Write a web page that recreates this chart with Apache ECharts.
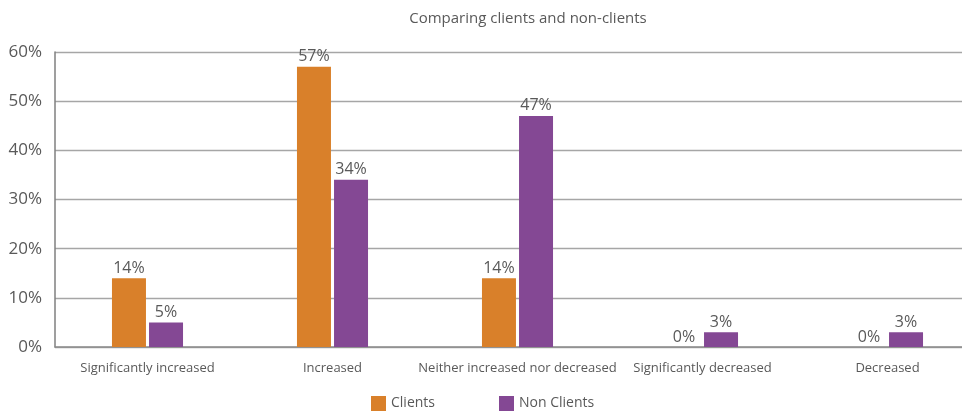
<!DOCTYPE html>
<html>
<head>
<meta charset="utf-8">
<script src="https://cdn.jsdelivr.net/npm/echarts@6/dist/echarts.min.js"></script>
<style>
  html, body { margin: 0; padding: 0; background: #fff; }
  #chart { width: 967px; height: 411px; }
</style>
</head>
<body>
<div id="chart"></div>
<script>
// Survey responses: change reported, clients vs non-clients (percent)
const categories = [
  'Significantly increased',
  'Increased',
  'Neither increased nor decreased',
  'Significantly decreased',
  'Decreased'
];
const clients = [14, 57, 14, 0, 0];
const nonClients = [5, 34, 47, 3, 3];
const yTicks = [0, 10, 20, 30, 40, 50, 60];

const FONT = '"Open Sans", "Noto Sans", sans-serif';
const TEXT = '#595959';

const chart = echarts.init(document.getElementById('chart'), null, { renderer: 'canvas' });

const labelStyle = {
  show: true,
  position: 'top',
  distance: 2,
  formatter: p => p.value + '%',
  color: TEXT,
  fontFamily: FONT,
  fontSize: 16
};

chart.setOption({
  animation: false,
  textStyle: { fontFamily: FONT },
  title: {
    text: 'Comparing clients and non-clients',
    left: 523,
    textAlign: 'center',
    top: 6,
    textStyle: { color: TEXT, fontFamily: FONT, fontSize: 15, fontWeight: 'normal' }
  },
  legend: {
    left: 366,
    top: 391,
    itemWidth: 15,
    itemHeight: 15,
    itemGap: 64,
    icon: 'rect',
    textStyle: { color: TEXT, fontFamily: FONT, fontSize: 14 },
    data: ['Clients', 'Non Clients']
  },
  // the category band runs a little past the right edge of the canvas
  grid: {
    left: 55, width: 925, top: 52, bottom: 64,
    containLabel: false,
    outerBoundsMode: 'none'
  },
  // gridlines stop a few pixels short of the right edge
  graphic: [{
    type: 'rect',
    right: 0,
    top: 40,
    shape: { width: 5, height: 315 },
    style: { fill: '#ffffff' },
    z: 100
  }],
  xAxis: {
    type: 'category',
    data: categories,
    axisLine: { lineStyle: { color: '#8c8c8c', width: 1.5 } },
    axisTick: { show: false },
    axisLabel: { color: TEXT, fontFamily: FONT, fontSize: 13, margin: 15, interval: 0 }
  },
  yAxis: {
    type: 'value',
    min: yTicks[0],
    max: yTicks[yTicks.length - 1],
    interval: 10,
    axisLine: { show: true, lineStyle: { color: '#7f7f7f', width: 1.5 } },
    axisTick: { show: false },
    splitLine: { lineStyle: { color: '#a6a6a6', width: 1.3 } },
    axisLabel: { color: TEXT, fontFamily: FONT, fontSize: 17, margin: 13, formatter: v => v + '%' }
  },
  series: [
    {
      name: 'Clients',
      type: 'bar',
      data: clients,
      barWidth: 34,
      barGap: '9%',
      itemStyle: { color: '#D9802A' },
      label: labelStyle
    },
    {
      name: 'Non Clients',
      type: 'bar',
      data: nonClients,
      barWidth: 34,
      itemStyle: { color: '#844894' },
      label: labelStyle
    }
  ]
});
</script>
</body>
</html>
